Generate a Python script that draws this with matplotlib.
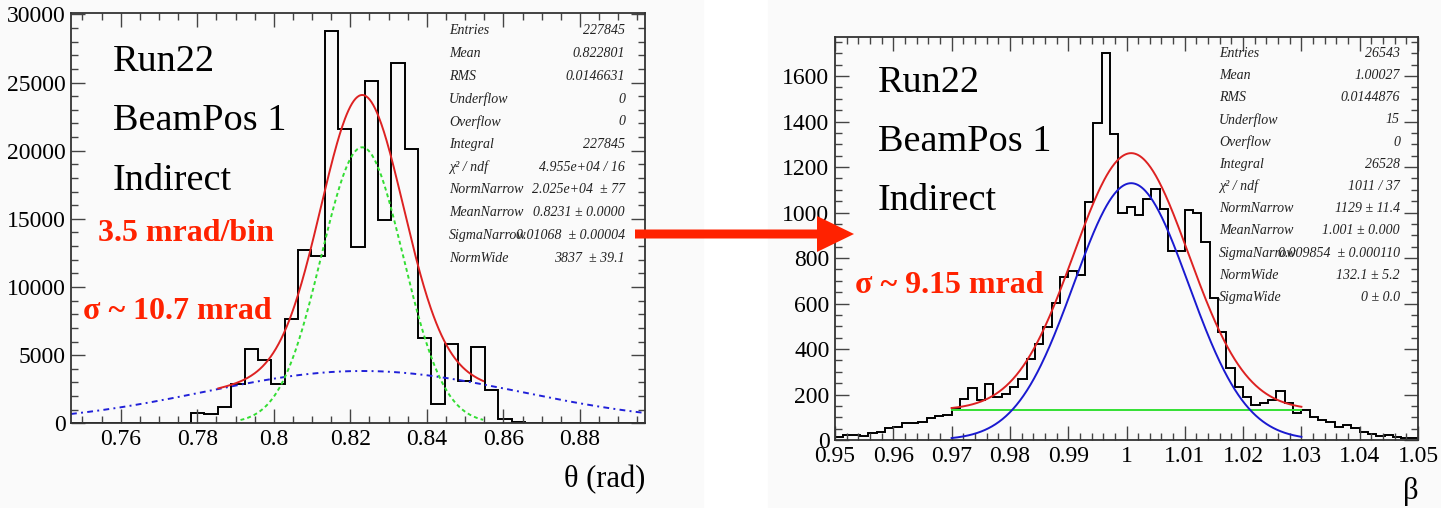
import matplotlib

matplotlib.use("Agg")
import matplotlib.pyplot as plt
import numpy as np
from matplotlib.patches import FancyArrow, Rectangle
from matplotlib.ticker import FuncFormatter, MultipleLocator

W, H = 1441, 508
RED = "#ff2200"

# left panel: theta, 43 bins of ~3.5 mrad
theta_range = (0.747, 0.897)
theta_counts = [0, 0, 0, 0, 0, 0, 0, 0, 0,
                780, 660, 1220, 2880, 5420, 4640, 2880, 7620, 12750, 12260,
                28760, 21570, 12950, 25090, 14900, 26460, 20110, 6230, 1390,
                5790, 3100, 5570, 2440, 290, 100,
                0, 0, 0, 0, 0, 0, 0, 0, 0]
theta_narrow = (20250, 0.8231, 0.01068)
theta_wide = (3837, 0.8231, 0.041)
theta_total_range = (0.7855, 0.8547)
theta_narrow_range = (0.7913, 0.8547)
theta_ymax = 30080

# right panel: beta, 70 bins
beta_range = (0.95, 1.05)
beta_counts = [12, 22, 22, 18, 32, 37, 51, 59, 73, 76, 81, 95, 107, 110,
               139, 179, 227, 176, 246, 190, 201, 231, 267, 355, 420, 498,
               604, 718, 744, 725, 1048, 1392, 1703, 1345, 999, 1023, 989,
               1058, 1103, 1014, 831, 831, 1011, 999, 872, 626, 476, 318,
               234, 188, 154, 164, 176, 215, 164, 120, 132, 100, 88, 81, 59,
               66, 51, 34, 26, 18, 22, 12, 7, 10]
beta_narrow = (1129, 1.0008, 0.009854)
beta_wide_const = 132.1
beta_fit_range = (0.97, 1.03)
beta_ymax = 1773

stats_left = [
    ("Entries", "227845"),
    ("Mean", "0.822801"),
    ("RMS", "0.0146631"),
    ("Underflow", "0"),
    ("Overflow", "0"),
    ("Integral", "227845"),
    ("χ² / ndf", "4.955e+04 / 16"),
    ("NormNarrow", "2.025e+04  ± 77"),
    ("MeanNarrow", "0.8231 ± 0.0000"),
    ("SigmaNarrow", "0.01068  ± 0.00004"),
    ("NormWide", "3837  ± 39.1"),
]
stats_right = [
    ("Entries", "26543"),
    ("Mean", "1.00027"),
    ("RMS", "0.0144876"),
    ("Underflow", "15"),
    ("Overflow", "0"),
    ("Integral", "26528"),
    ("χ² / ndf", "1011 / 37"),
    ("NormNarrow", "1129 ± 11.4"),
    ("MeanNarrow", "1.001 ± 0.000"),
    ("SigmaNarrow", "0.009854  ± 0.000110"),
    ("NormWide", "132.1 ± 5.2"),
    ("SigmaWide", "0 ± 0.0"),
]
header_lines = ["Run22", "BeamPos 1", "Indirect"]

plt.rcParams["font.family"] = ["Liberation Serif", "DejaVu Serif"]


def fx(px):
    return px / W


def fy(py):
    return 1 - py / H


def gauss(x, norm, mean, sigma):
    return norm * np.exp(-0.5 * ((x - mean) / sigma) ** 2)


def fmt_g(v, _pos):
    return f"{v:g}"


def style_axes(ax, xmaj, xmin, ymaj, ymin):
    ax.set_facecolor("none")
    for s in ax.spines.values():
        s.set_color("#333333")
        s.set_linewidth(1.3)
    ax.xaxis.set_major_locator(MultipleLocator(xmaj))
    ax.xaxis.set_minor_locator(MultipleLocator(xmin))
    ax.yaxis.set_major_locator(MultipleLocator(ymaj))
    ax.yaxis.set_minor_locator(MultipleLocator(ymin))
    ax.xaxis.set_major_formatter(FuncFormatter(fmt_g))
    ax.yaxis.set_major_formatter(FuncFormatter(lambda v, p: f"{v:.0f}"))
    ax.tick_params(which="both", direction="in", top=True, right=True,
                   color="#444444", labelcolor="black", labelsize=17)
    ax.tick_params(which="major", length=10, width=1.0, pad=4)
    ax.tick_params(which="minor", length=5, width=1.0)


fig = plt.figure(figsize=(W / 100, H / 100), dpi=100, facecolor="white")
fig.add_artist(Rectangle((0, 0), fx(703), 1, transform=fig.transFigure,
                         color="#fafafa", zorder=-10))
fig.add_artist(Rectangle((fx(768), 0), 1 - fx(768), 1, transform=fig.transFigure,
                         color="#fafafa", zorder=-10))

# ---- left panel
axL = fig.add_axes([fx(71), fy(423.3), fx(645) - fx(71), fy(13.3) - fy(423.3)])
edgesL = np.linspace(theta_range[0], theta_range[1], len(theta_counts) + 1)
axL.stairs(theta_counts, edgesL, color="black", lw=1.4, baseline=0)
xb = np.linspace(*theta_range, 400)
axL.plot(xb, gauss(xb, *theta_wide), color="#2020d8", lw=1.4,
         ls=(0, (3, 2.2, 1, 2.2)))
xg = np.linspace(*theta_narrow_range, 300)
axL.plot(xg, gauss(xg, *theta_narrow), color="#33dd33", lw=1.4, ls=(0, (2, 1.6)))
xr = np.linspace(*theta_total_range, 300)
axL.plot(xr, gauss(xr, *theta_narrow) + gauss(xr, *theta_wide), color="#dd2222", lw=1.4)
axL.set_xlim(*theta_range)
axL.set_ylim(0, theta_ymax)
style_axes(axL, 0.02, 0.005, 5000, 1000)

# ---- right panel
axR = fig.add_axes([fx(835), fy(440), fx(1418) - fx(835), fy(36.7) - fy(440)])
edgesR = np.linspace(beta_range[0], beta_range[1], len(beta_counts) + 1)
axR.stairs(beta_counts, edgesR, color="black", lw=1.4, baseline=0)
xf = np.linspace(*beta_fit_range, 400)
axR.plot(xf, np.full_like(xf, beta_wide_const), color="#33e033", lw=1.4)
axR.plot(xf, gauss(xf, *beta_narrow), color="#1a1ad0", lw=1.4)
axR.plot(xf, gauss(xf, *beta_narrow) + beta_wide_const, color="#dd2222", lw=1.4)
axR.set_xlim(*beta_range)
axR.set_ylim(0, beta_ymax)
style_axes(axR, 0.01, 0.002, 200, 50)

# axis titles
fig.text(fx(645), fy(480), "θ (rad)", ha="right", va="center", fontsize=22)
fig.text(fx(1419), fy(491), "β", ha="right", va="center", fontsize=22)

# run labels
for x0, baselines in ((113, (70.7, 130, 190)), (878, (92, 150.7, 210))):
    for line, yb in zip(header_lines, baselines):
        fig.text(fx(x0), fy(yb), line, ha="left", va="baseline", fontsize=27.5)

fig.text(fx(98), fy(241), "3.5 mrad/bin", color=RED, fontsize=23,
         fontweight="bold", va="baseline")
fig.text(fx(83), fy(319), "σ ~ 10.7 mrad", color=RED, fontsize=23,
         fontweight="bold", va="baseline")
fig.text(fx(855), fy(293), "σ ~ 9.15 mrad", color=RED, fontsize=23,
         fontweight="bold", va="baseline")

# stats boxes
for (lx, rx, y0, dy, rows) in ((449, 625, 31, 22.7, stats_left),
                               (1219, 1400, 53.3, 22.2, stats_right)):
    for i, (lab, val) in enumerate(rows):
        y = y0 + i * dy
        fig.text(fx(lx), fy(y), lab, ha="left", va="center", fontsize=10,
                 style="italic", color="#222222")
        fig.text(fx(rx), fy(y), val, ha="right", va="center", fontsize=10,
                 style="italic", color="#222222")

# arrow between the panels
fig.add_artist(FancyArrow(fx(635), fy(234), fx(854) - fx(635), 0,
                          width=9 / H, head_width=36 / H, head_length=37 / W,
                          length_includes_head=True, color=RED, lw=0,
                          transform=fig.transFigure, zorder=5))

fig.savefig("out.png", dpi=100, facecolor="white")
